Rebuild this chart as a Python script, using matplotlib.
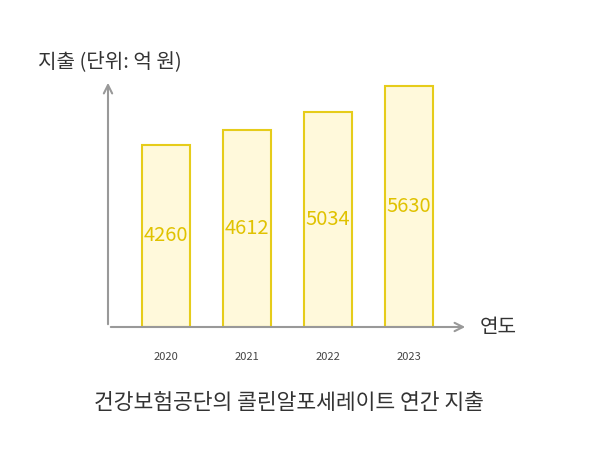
import matplotlib.pyplot as plt

plt.rcParams['font.family'] = ['Noto Sans CJK KR', 'DejaVu Sans']

years = ["2020", "2021", "2022", "2023"]
values = [4260, 4612, 5034, 5630]

fig = plt.figure(figsize=(6, 4.63), dpi=100)
W, H = 600, 463
ax = fig.add_axes([108 / W, (H - 327) / H, (468 - 108) / W, (327 - 80) / H])

x = range(len(years))
ax.bar(x, values, width=0.6, color="#FFF9DB", edgecolor="#E6CC1A", linewidth=1.5)
for i, v in zip(x, values):
    ax.text(i, v / 2, str(v), ha="center", va="center", fontsize=14.5,
            color="#E0C200", fontweight="medium")

ax.set_xlim(-0.716, 3.73)
ax.set_ylim(0, 5771)
for s in ["top", "right", "left", "bottom"]:
    ax.spines[s].set_visible(False)
ax.set_xticks([])
ax.set_yticks([])

# axes with arrowheads
ax.annotate("", xy=(0, 1.0), xytext=(0, 0), xycoords="axes fraction",
            arrowprops=dict(arrowstyle="->", color="#999999", lw=1.5, mutation_scale=15))
ax.annotate("", xy=(1.0, 0), xytext=(0, 0), xycoords="axes fraction",
            arrowprops=dict(arrowstyle="->", color="#999999", lw=1.5, mutation_scale=15))

for i, y in zip(x, years):
    ax.text(i, -700, y, ha="center", va="center", fontsize=8, color="#444444")

fig.text(38 / W, 1 - 62 / H, "지출 (단위: 억 원)", fontsize=14.5, color="#333333", va="center")
fig.text(480 / W, 1 - 328 / H, "연도", fontsize=14.5, color="#333333", va="center")
fig.text(289 / W, 1 - 403 / H, "건강보험공단의 콜린알포세레이트 연간 지출", fontsize=15.5,
         color="#333333", ha="center", va="center")

fig.savefig("out.png", dpi=100)
